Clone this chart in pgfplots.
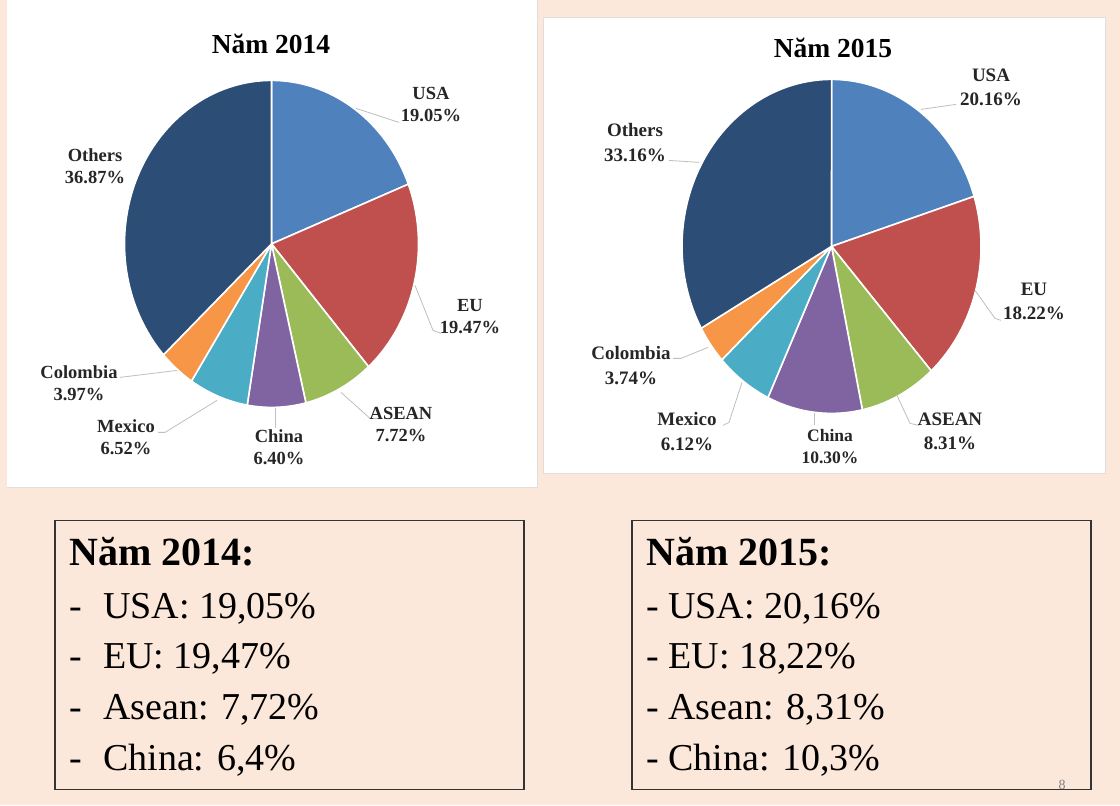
\documentclass[border=0pt]{standalone}
\usepackage{fontspec}
\setmainfont{Liberation Serif}
\usepackage{pgfplots}
\pgfplotsset{compat=1.18}
\definecolor{peach}{HTML}{FCE8DA}
\definecolor{cUSA}{HTML}{4F81BD}
\definecolor{cEU}{HTML}{C0504D}
\definecolor{cASEAN}{HTML}{9BBB59}
\definecolor{cChina}{HTML}{8064A2}
\definecolor{cMexico}{HTML}{4BACC6}
\definecolor{cColombia}{HTML}{F79646}
\definecolor{cOthers}{HTML}{2C4D75}
\definecolor{leader}{HTML}{BFBFBF}
% 2014 shares (%)
\pgfmathsetmacro\paA{90}
\pgfmathsetmacro\paB{\paA-3.6*19.05}% USA
\pgfmathsetmacro\paC{\paB-3.6*19.47}% EU
\pgfmathsetmacro\paD{\paC-3.6*7.72}% ASEAN
\pgfmathsetmacro\paE{\paD-3.6*6.40}% China
\pgfmathsetmacro\paF{\paE-3.6*6.52}% Mexico
\pgfmathsetmacro\paG{\paF-3.6*3.97}% Colombia
\pgfmathsetmacro\paH{\paG-3.6*36.87}% Others
% 2015 shares (%)
\pgfmathsetmacro\pbA{90}
\pgfmathsetmacro\pbB{\pbA-3.6*20.16}% USA
\pgfmathsetmacro\pbC{\pbB-3.6*18.22}% EU
\pgfmathsetmacro\pbD{\pbC-3.6*8.31}% ASEAN
\pgfmathsetmacro\pbE{\pbD-3.6*10.30}% China
\pgfmathsetmacro\pbF{\pbE-3.6*6.12}% Mexico
\pgfmathsetmacro\pbG{\pbF-3.6*3.74}% Colombia
\pgfmathsetmacro\pbH{\pbG-3.6*33.16}% Others
\newcommand{\wedgeplot}[3]{%
  \addplot[fill=#1, draw=white, line width=1.6pt, line join=round, domain=#3:#2, samples=80, variable=\t]
    ({cos(\t)},{sin(\t)}) -- (0,0) -- cycle;}
\pgfplotsset{piestyle/.style={scale only axis, hide axis, clip=false, anchor=center,
  xmin=-1, xmax=1, ymin=-1, ymax=1}}
\begin{document}
\begin{tikzpicture}
% background and panels
\fill[peach] (0pt,0pt) rectangle (1120pt,805pt);
\begin{scope}[x=1pt,y=1pt]
\fill[white] (7,318) rectangle (537,805);
\draw[gray!25, line width=0.8pt] (7,318) -- (537,318) -- (537,805);
\fill[white] (543,332) rectangle (1105,788);
\draw[gray!25, line width=0.8pt] (543,332) rectangle (1105,788);
\end{scope}
% ---------- 2014 pie ----------
\begin{axis}[piestyle, at={(271.5pt,561.5pt)}, width=294pt, height=327pt]
\wedgeplot{cUSA}{\paA}{\paB}
\wedgeplot{cEU}{\paB}{\paC}
\wedgeplot{cASEAN}{\paC}{\paD}
\wedgeplot{cChina}{\paD}{\paE}
\wedgeplot{cMexico}{\paE}{\paF}
\wedgeplot{cColombia}{\paF}{\paG}
\wedgeplot{cOthers}{\paG}{\paH}
\end{axis}
% ---------- 2015 pie ----------
\begin{axis}[piestyle, at={(831.5pt,559pt)}, width=299pt, height=334pt]
\wedgeplot{cUSA}{\pbA}{\pbB}
\wedgeplot{cEU}{\pbB}{\pbC}
\wedgeplot{cASEAN}{\pbC}{\pbD}
\wedgeplot{cChina}{\pbD}{\pbE}
\wedgeplot{cMexico}{\pbE}{\pbF}
\wedgeplot{cColombia}{\pbF}{\pbG}
\wedgeplot{cOthers}{\pbG}{\pbH}
\end{axis}
\begin{scope}[x=1pt,y=1pt]
% titles
\node[anchor=base, font=\bfseries\fontsize{27.5}{32}\selectfont] at (271,752) {Năm 2014};
\node[anchor=base, font=\bfseries\fontsize{27.5}{32}\selectfont] at (833,748) {Năm 2015};
% leader lines
\begin{scope}[leader, line width=0.8pt]
\draw (356,697) -- (399,683);
\draw (415,520) -- (433,475) -- (441,472);
\draw (341,413) -- (370,387) -- (377,387);
\draw (275,397) -- (275,377);
\draw (217,405) -- (165,373) -- (158,373);
\draw (177,435) -- (120,428);
\draw (921,696) -- (956,701);
\draw (975,515) -- (995,487) -- (1001,485);
\draw (897,410) -- (910,382) -- (919,380);
\draw (814,392) -- (814,380);
\draw (742,423) -- (729,383) -- (723,380);
\draw (708,458) -- (681,447) -- (673,447);
\draw (669,645) -- (699,643);
\end{scope}
% data labels 2014
\begin{scope}[every node/.style={align=center, text=black!85, font=\bfseries\fontsize{18.5}{22.5}\selectfont}]
\node at (431,701) {USA\\19.05\%};
\node at (470,489) {EU\\19.47\%};
\node at (401,381) {ASEAN\\7.72\%};
\node at (279,358) {China\\6.40\%};
\node at (126,368) {Mexico\\6.52\%};
\node at (79,422) {Colombia\\3.97\%};
\node at (95,639) {Others\\36.87\%};
\end{scope}
% data labels 2015
\begin{scope}[every node/.style={align=center, text=black!85, font=\bfseries\fontsize{19}{24.5}\selectfont}]
\node at (991,718) {USA\\20.16\%};
\node at (1034,504) {EU\\18.22\%};
\node at (950,374) {ASEAN\\8.31\%};
\node[font=\bfseries\fontsize{17.5}{22}\selectfont] at (830,359) {China\\10.30\%};
\node at (687,374) {Mexico\\6.12\%};
\node at (631,440) {Colombia\\3.74\%};
\node at (635,663) {Others\\33.16\%};
\end{scope}
% text boxes
\draw[black!80, line width=1.5pt] (55,16) rectangle (524,285);
\draw[black!80, line width=1.5pt] (632,16) rectangle (1091,285);
\begin{scope}[every node/.style={anchor=base west, inner sep=0pt, font=\fontsize{38}{44}\selectfont}]
\node[font=\bfseries\fontsize{40}{44}\selectfont] at (69,240) {Năm 2014:};
\node at (69,187) {-}; \node at (103,187) {USA: 19,05\%};
\node at (69,137) {-}; \node at (103,137) {EU: 19,47\%};
\node at (69,86) {-};  \node at (103,86) {Asean: 7,72\%};
\node at (69,35) {-};  \node at (103,35) {China: 6,4\%};
\node[font=\bfseries\fontsize{40}{44}\selectfont] at (646,240) {Năm 2015:};
\node at (646,187) {- USA: 20,16\%};
\node at (646,137) {- EU: 18,22\%};
\node at (646,86) {- Asean: 8,31\%};
\node at (646,35) {- China: 10,3\%};
\end{scope}
\node[text=gray, font=\fontsize{14}{16}\selectfont] at (1062,20) {8};
\end{scope}
\end{tikzpicture}
\end{document}
